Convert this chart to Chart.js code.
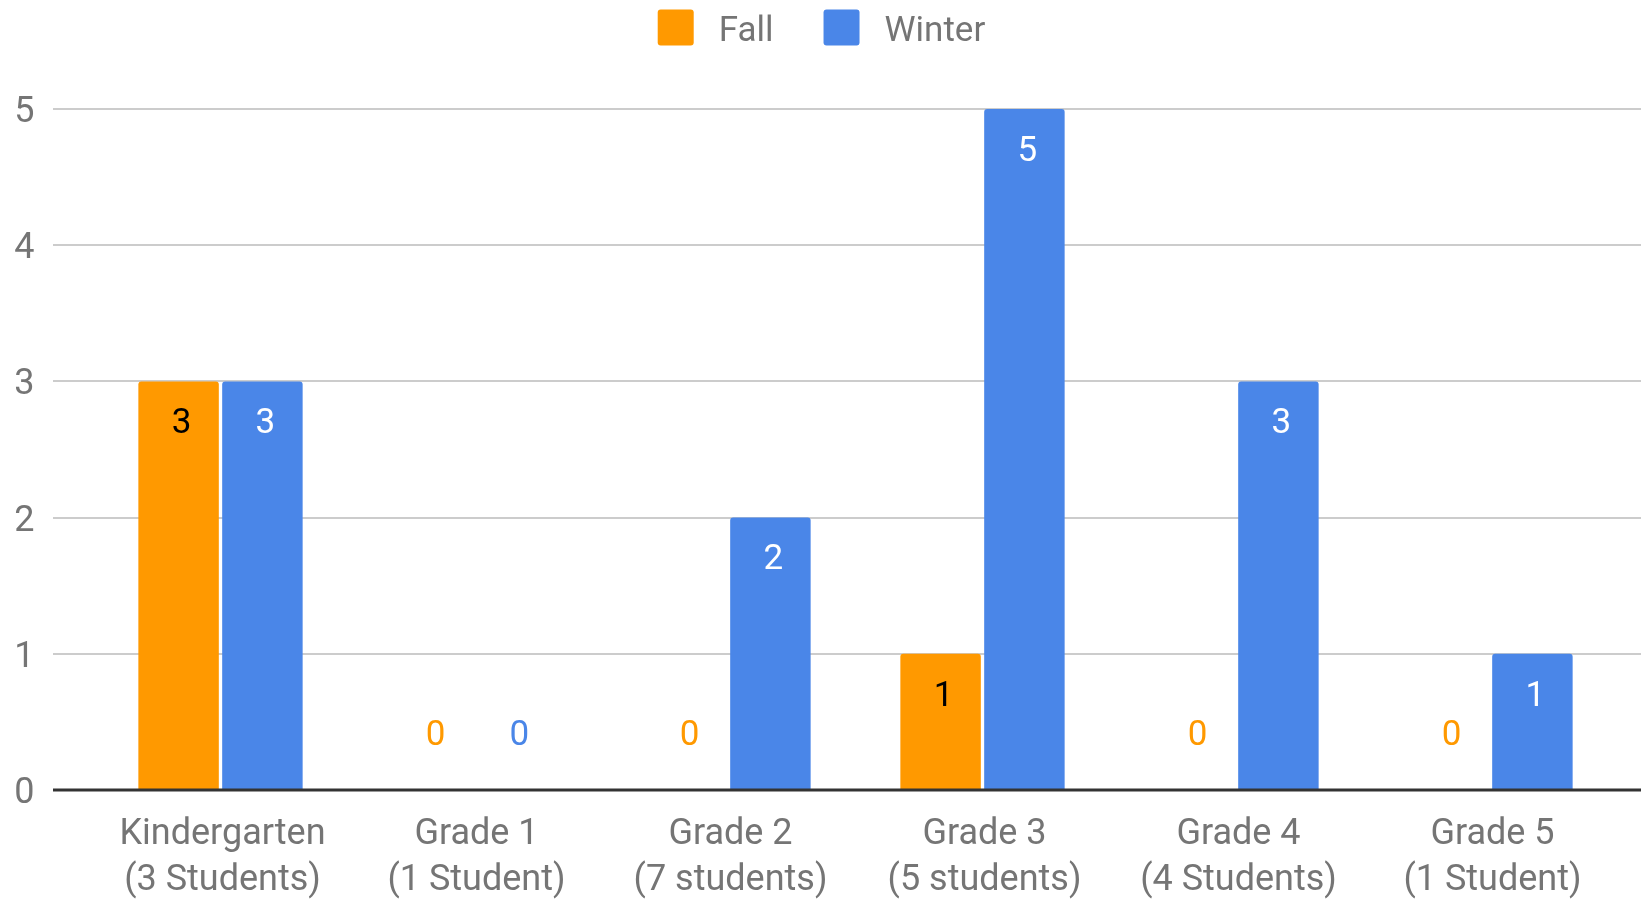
<!DOCTYPE html>
<html>
<head>
<meta charset="utf-8">
<script src="https://cdn.jsdelivr.net/npm/chart.js@4/dist/chart.umd.min.js"></script>
<style>
  html, body { margin: 0; padding: 0; background: #fff; }
  #wrap { width: 1641px; height: 900px; position: relative; }
</style>
</head>
<body>
<div id="wrap"><canvas id="c" width="1641" height="900"></canvas></div>
<script>
const categories = [
  ['Kindergarten', '(3 Students)'],
  ['Grade 1', '(1 Student)'],
  ['Grade 2', '(7 students)'],
  ['Grade 3', '(5 students)'],
  ['Grade 4', '(4 Students)'],
  ['Grade 5', '(1 Student)']
];
const seriesNames = ['Fall', 'Winter'];
const fallValues = [3, 0, 0, 1, 0, 0];
const winterValues = [3, 0, 2, 5, 3, 1];
const yTicks = [0, 1, 2, 3, 4, 5];

const COLORS = ['#ff9900', '#4a86e8'];
const LABEL_IN = ['#000000', '#ffffff'];
const TEXT = '#757575';
const FONT = 'Roboto';

const gridPlugin = {
  id: 'gridExt',
  beforeDatasetsDraw(chart) {
    const ctx = chart.ctx, y = chart.scales.y;
    ctx.save();
    ctx.strokeStyle = '#cccccc';
    ctx.lineWidth = 2;
    yTicks.forEach(v => {
      if (v === 0) return;
      const py = Math.round(y.getPixelForValue(v));
      ctx.beginPath(); ctx.moveTo(53, py); ctx.lineTo(chart.width, py); ctx.stroke();
    });
    ctx.restore();
  },
  afterDatasetsDraw(chart) {
    const ctx = chart.ctx, y = chart.scales.y;
    ctx.save();
    const py = y.getPixelForValue(0);
    ctx.strokeStyle = '#333333';
    ctx.lineWidth = 3;
    ctx.beginPath(); ctx.moveTo(53, py); ctx.lineTo(chart.width, py); ctx.stroke();
    // value labels
    ctx.font = '35px ' + FONT;
    ctx.textAlign = 'center';
    ctx.textBaseline = 'middle';
    chart.data.datasets.forEach((ds, di) => {
      const meta = chart.getDatasetMeta(di);
      meta.data.forEach((bar, i) => {
        const v = ds.data[i];
        if (v > 0) {
          ctx.fillStyle = LABEL_IN[di];
          ctx.fillText(String(v), bar.x + 3, bar.y + 43);
        } else {
          ctx.fillStyle = COLORS[di];
          ctx.fillText(String(v), bar.x + 3, py - 54);
        }
      });
    });
    ctx.restore();
  },
  afterDraw(chart) {
    // legend
    const ctx = chart.ctx;
    ctx.save();
    ctx.font = '35px ' + FONT;
    ctx.textBaseline = 'middle';
    ctx.textAlign = 'left';
    const box = 36, gapText = 25, gapItem = 50;
    const widths = seriesNames.map(n => ctx.measureText(n).width);
    let total = 0;
    widths.forEach((w, i) => { total += box + gapText + w + (i < widths.length - 1 ? gapItem : 0); });
    let x = chart.width / 2 - total / 2 + 1;
    const cy = 27.5;
    seriesNames.forEach((n, i) => {
      ctx.fillStyle = COLORS[i];
      ctx.beginPath();
      ctx.roundRect(x, cy - box / 2, box, box, 3);
      ctx.fill();
      ctx.fillStyle = TEXT;
      ctx.fillText(n, x + box + gapText, cy + 5);
      x += box + gapText + widths[i] + gapItem;
    });
    ctx.restore();
  }
};

new Chart(document.getElementById('c'), {
  type: 'bar',
  data: {
    labels: categories,
    datasets: [
      { label: seriesNames[0], data: fallValues, backgroundColor: COLORS[0],
        borderRadius: { topLeft: 3, topRight: 3 }, borderSkipped: 'bottom',
        categoryPercentage: 0.66, barPercentage: 0.96 },
      { label: seriesNames[1], data: winterValues, backgroundColor: COLORS[1],
        borderRadius: { topLeft: 3, topRight: 3 }, borderSkipped: 'bottom',
        categoryPercentage: 0.66, barPercentage: 0.96 }
    ]
  },
  options: {
    responsive: false,
    animation: false,
    devicePixelRatio: 1,
    layout: { padding: { left: 13.5, right: 23.5, top: 109, bottom: 0 } },
    plugins: {
      legend: { display: false },
      tooltip: { enabled: false },
      title: { display: false }
    },
    scales: {
      x: {
        offset: true,
        grid: { display: false, drawTicks: false },
        border: { display: false },
        ticks: {
          color: TEXT,
          font: { family: FONT, size: 36, lineHeight: 1.28 },
          padding: 22,
          labelOffset: 2,
          maxRotation: 0,
          autoSkip: false
        },
        afterFit(scale) { scale.height = 110; }
      },
      y: {
        min: 0, max: 5,
        grid: { display: false, drawTicks: false },
        border: { display: false },
        ticks: {
          stepSize: 1,
          color: TEXT,
          font: { family: FONT, size: 36 },
          padding: 59,
          labelOffset: 4
        },
        afterFit(scale) { scale.width = 80; }
      }
    }
  },
  plugins: [gridPlugin]
});
</script>
</body>
</html>
